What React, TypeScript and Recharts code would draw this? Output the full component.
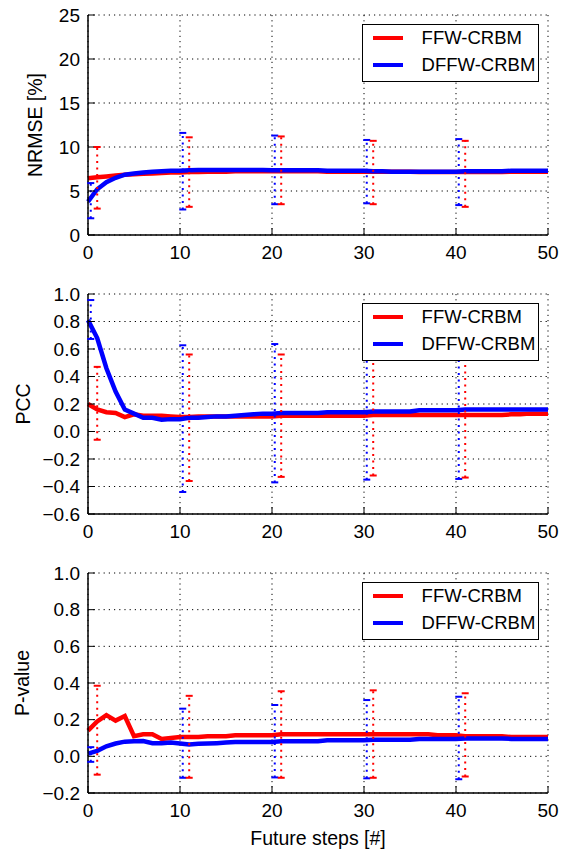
import React from 'react'
import {
  ComposedChart,
  Line,
  Scatter,
  ErrorBar,
  XAxis,
  YAxis,
  CartesianGrid,
  Legend,
  Label,
} from 'recharts'

const FONT = '"Liberation Sans", Arial, Helvetica, sans-serif'

// future steps on the x axis
const steps = [
  0, 1, 2, 3, 4, 5, 6, 7, 8, 9, 10, 11, 12, 13, 14, 15, 16, 17, 18, 19, 20, 21, 22, 23, 24, 25,
  26, 27, 28, 29, 30, 31, 32, 33, 34, 35, 36, 37, 38, 39, 40, 41, 42, 43, 44, 45, 46, 47, 48, 49, 50,
]
const xTicks = [0, 10, 20, 30, 40, 50]

const seriesNames = ['FFW-CRBM', 'DFFW-CRBM']

// NRMSE [%]
const nrmseFfw = [
  6.45, 6.55, 6.65, 6.75, 6.85, 6.9, 6.95, 7.0, 7.05, 7.1, 7.1, 7.15, 7.15, 7.2, 7.2, 7.2, 7.25,
  7.25, 7.25, 7.25, 7.25, 7.25, 7.25, 7.25, 7.25, 7.25, 7.2, 7.2, 7.2, 7.2, 7.2, 7.2, 7.2, 7.2,
  7.2, 7.2, 7.15, 7.15, 7.15, 7.15, 7.15, 7.15, 7.15, 7.15, 7.15, 7.15, 7.2, 7.2, 7.2, 7.2, 7.2,
]
const nrmseDffw = [
  3.8, 5.2, 6.0, 6.5, 6.85, 7.0, 7.1, 7.2, 7.25, 7.3, 7.3, 7.35, 7.4, 7.4, 7.4, 7.4, 7.4, 7.4,
  7.4, 7.4, 7.35, 7.35, 7.35, 7.35, 7.35, 7.35, 7.3, 7.3, 7.3, 7.3, 7.3, 7.25, 7.25, 7.2, 7.2,
  7.2, 7.2, 7.2, 7.2, 7.2, 7.2, 7.25, 7.25, 7.25, 7.25, 7.25, 7.3, 7.3, 7.3, 7.3, 7.3,
]
const nrmseTicks = [0, 5, 10, 15, 20, 25]

// PCC
const pccFfw = [
  0.2, 0.16, 0.14, 0.135, 0.105, 0.125, 0.115, 0.115, 0.115, 0.11, 0.105, 0.105, 0.11, 0.11, 0.11,
  0.11, 0.11, 0.11, 0.11, 0.11, 0.11, 0.115, 0.115, 0.115, 0.115, 0.115, 0.115, 0.115, 0.115,
  0.115, 0.115, 0.12, 0.12, 0.12, 0.12, 0.12, 0.12, 0.12, 0.12, 0.12, 0.12, 0.12, 0.12, 0.12, 0.12,
  0.12, 0.125, 0.125, 0.13, 0.13, 0.13,
]
const pccDffw = [
  0.81, 0.68, 0.46, 0.29, 0.16, 0.13, 0.1, 0.1, 0.085, 0.09, 0.09, 0.1, 0.1, 0.105, 0.11, 0.11,
  0.115, 0.12, 0.125, 0.13, 0.13, 0.135, 0.135, 0.135, 0.135, 0.135, 0.14, 0.14, 0.14, 0.14, 0.14,
  0.145, 0.145, 0.145, 0.145, 0.145, 0.155, 0.155, 0.155, 0.155, 0.155, 0.16, 0.16, 0.16, 0.16,
  0.16, 0.16, 0.16, 0.16, 0.16, 0.16,
]
const pccTicks = [-0.6, -0.4, -0.2, 0.0, 0.2, 0.4, 0.6, 0.8, 1.0]

// P-value
const pvalFfw = [
  0.14, 0.19, 0.225, 0.195, 0.22, 0.11, 0.12, 0.12, 0.095, 0.1, 0.105, 0.105, 0.105, 0.11, 0.11,
  0.11, 0.115, 0.115, 0.115, 0.115, 0.115, 0.12, 0.12, 0.12, 0.12, 0.12, 0.12, 0.12, 0.12, 0.12,
  0.12, 0.12, 0.12, 0.12, 0.12, 0.12, 0.12, 0.12, 0.115, 0.115, 0.115, 0.11, 0.11, 0.11, 0.11,
  0.11, 0.105, 0.105, 0.105, 0.105, 0.105,
]
const pvalDffw = [
  0.015, 0.03, 0.055, 0.07, 0.08, 0.082, 0.083, 0.072, 0.072, 0.075, 0.07, 0.065, 0.068, 0.07,
  0.072, 0.075, 0.078, 0.078, 0.078, 0.078, 0.078, 0.082, 0.082, 0.082, 0.082, 0.082, 0.088, 0.088,
  0.088, 0.088, 0.088, 0.09, 0.09, 0.09, 0.09, 0.09, 0.095, 0.095, 0.095, 0.095, 0.095, 0.097,
  0.097, 0.097, 0.097, 0.097, 0.095, 0.095, 0.095, 0.095, 0.095,
]
const pvalTicks = [-0.2, 0.0, 0.2, 0.4, 0.6, 0.8, 1.0]

// error bars: red ones sit one step right of the blue ones
const ffwBarSteps = [1, 11, 21, 31, 41]
const dffwBarSteps = [0.3, 10.3, 20.3, 30.3, 40.3]

const nrmseFfwLow = [3.0, 3.2, 3.5, 3.5, 3.2]
const nrmseFfwHigh = [10.0, 11.1, 11.2, 10.7, 10.7]
const nrmseDffwLow = [1.9, 2.9, 3.5, 3.6, 3.4]
const nrmseDffwHigh = [5.9, 11.6, 11.3, 10.8, 10.9]

const pccFfwLow = [-0.06, -0.36, -0.33, -0.32, -0.335]
const pccFfwHigh = [0.47, 0.56, 0.56, 0.56, 0.57]
const pccDffwLow = [0.673, -0.44, -0.37, -0.35, -0.345]
const pccDffwHigh = [0.956, 0.627, 0.636, 0.62, 0.63]

const pvalFfwLow = [-0.1, -0.117, -0.117, -0.117, -0.11]
const pvalFfwHigh = [0.385, 0.33, 0.355, 0.36, 0.344]
const pvalDffwLow = [-0.03, -0.117, -0.115, -0.12, -0.125]
const pvalDffwHigh = [0.05, 0.26, 0.28, 0.307, 0.325]

const RED = '#ff0000'
const BLUE = '#0000ff'

const fmtInt = (v: number) => String(v)
const fmtDec = (v: number) => v.toFixed(1).replace('-', '\u2212')

function LegendBox({ payload }: any) {
  // keep plotting order (recharts sorts by name otherwise)
  const items = (payload ?? [])
    .filter((p: any) => p.type !== 'none')
    .sort((a: any, b: any) => seriesNames.indexOf(a.value) - seriesNames.indexOf(b.value))
  return (
    <div
      style={{
        width: 177,
        height: 58,
        boxSizing: 'border-box',
        border: '1.4px solid #000',
        background: '#fff',
        fontFamily: FONT,
      }}
    >
      {items.map((item: any) => (
        <div key={item.value} style={{ height: 26.7, display: 'flex', alignItems: 'center' }}>
          <span
            style={{ display: 'inline-block', marginLeft: 9.6, width: 30, height: 4, background: item.color }}
          />
          <span style={{ marginLeft: 19, fontSize: 18.5, color: '#000', lineHeight: 1 }}>{item.value}</span>
        </div>
      ))}
    </div>
  )
}

interface PanelProps {
  top: number
  height: number
  xAxisHeight: number
  yDomain: [number, number]
  yTicks: number[]
  fmt: (v: number) => string
  yLabel: string
  yLabelX: number
  ffw: number[]
  dffw: number[]
  ffwLow: number[]
  ffwHigh: number[]
  dffwLow: number[]
  dffwHigh: number[]
  xLabel?: string
}

function Panel(p: PanelProps) {
  const rows = steps.map((s, i) => ({ step: s, ffw: p.ffw[i], dffw: p.dffw[i] }))
  const bars = (xs: number[], lo: number[], hi: number[]) =>
    xs.map((x, i) => ({ step: x, y: lo[i], span: [0, hi[i] - lo[i]] }))
  const caps = (xs: number[], lo: number[], hi: number[]) =>
    xs.flatMap((x, i) => [
      { step: x, y: lo[i] },
      { step: x, y: hi[i] },
    ])
  const capShape = (color: string) => (props: any) => (
    <line x1={props.cx - 3.5} x2={props.cx + 3.5} y1={props.cy} y2={props.cy} stroke={color} strokeWidth={2} />
  )
  const tick = { fill: '#000', fontSize: 19, fontFamily: FONT }
  const axisLine = { stroke: '#000', strokeWidth: 1.5 }
  const tickLine = { stroke: '#000', strokeWidth: 1 }

  return (
    <div style={{ position: 'absolute', left: 0, top: p.top }}>
      <ComposedChart
        width={563}
        height={p.height}
        data={rows}
        margin={{ top: 15, right: 15, bottom: 0, left: 0 }}
      >
        <CartesianGrid stroke="#000" strokeWidth={1} strokeDasharray="1.2 4" />
        <XAxis
          dataKey="step"
          type="number"
          domain={[0, 50]}
          ticks={xTicks}
          height={p.xAxisHeight}
          tick={tick}
          tickFormatter={fmtInt}
          axisLine={axisLine}
          tickLine={tickLine}
          tickSize={-7}
          tickMargin={18}
          interval={0}
        >
          {p.xLabel && (
            <Label
              content={(lp: any) => (
                <text
                  x={lp.viewBox.x + lp.viewBox.width / 2}
                  y={lp.viewBox.y + 52}
                  textAnchor="middle"
                  fontSize={19.5}
                  fontFamily={FONT}
                  fill="#000"
                >
                  {p.xLabel}
                </text>
              )}
            />
          )}
        </XAxis>
        <XAxis
          xAxisId="top"
          orientation="top"
          type="number"
          domain={[0, 50]}
          ticks={xTicks}
          height={0}
          tickFormatter={() => ''}
          axisLine={axisLine}
          tickLine={tickLine}
          tickSize={-7}
          interval={0}
        />
        <YAxis
          type="number"
          domain={p.yDomain}
          ticks={p.yTicks}
          width={88}
          tick={tick}
          tickFormatter={p.fmt}
          axisLine={axisLine}
          tickLine={tickLine}
          tickSize={-7}
          tickMargin={15}
          interval={0}
        >
          <Label
            content={(lp: any) => {
              const cy = lp.viewBox.y + lp.viewBox.height / 2
              return (
                <text
                  x={p.yLabelX}
                  y={cy}
                  transform={`rotate(-90, ${p.yLabelX}, ${cy})`}
                  textAnchor="middle"
                  fontSize={19.5}
                  fontFamily={FONT}
                  fill="#000"
                >
                  {p.yLabel}
                </text>
              )
            }}
          />
        </YAxis>
        <YAxis
          yAxisId="right"
          orientation="right"
          type="number"
          domain={p.yDomain}
          ticks={p.yTicks}
          width={0}
          tickFormatter={() => ''}
          axisLine={axisLine}
          tickLine={tickLine}
          tickSize={-7}
          interval={0}
        />
        <Line
          dataKey="ffw"
          name={seriesNames[0]}
          type="linear"
          stroke={RED}
          strokeWidth={4.5}
          dot={false}
          isAnimationActive={false}
        />
        <Line
          dataKey="dffw"
          name={seriesNames[1]}
          type="linear"
          stroke={BLUE}
          strokeWidth={4.5}
          dot={false}
          isAnimationActive={false}
        />
        <Scatter
          data={bars(dffwBarSteps, p.dffwLow, p.dffwHigh)}
          dataKey="y"
          legendType="none"
          shape={() => <g />}
          isAnimationActive={false}
        >
          <ErrorBar
            dataKey="span"
            direction="y"
            width={0}
            stroke={BLUE}
            strokeWidth={2}
            strokeDasharray="2 4.5"
            isAnimationActive={false}
          />
        </Scatter>
        <Scatter
          data={bars(ffwBarSteps, p.ffwLow, p.ffwHigh)}
          dataKey="y"
          legendType="none"
          shape={() => <g />}
          isAnimationActive={false}
        >
          <ErrorBar
            dataKey="span"
            direction="y"
            width={0}
            stroke={RED}
            strokeWidth={2}
            strokeDasharray="2 4.5"
            isAnimationActive={false}
          />
        </Scatter>
        <Scatter
          data={caps(dffwBarSteps, p.dffwLow, p.dffwHigh)}
          dataKey="y"
          legendType="none"
          shape={capShape(BLUE)}
          isAnimationActive={false}
        />
        <Scatter
          data={caps(ffwBarSteps, p.ffwLow, p.ffwHigh)}
          dataKey="y"
          legendType="none"
          shape={capShape(RED)}
          isAnimationActive={false}
        />
        <Legend
          layout="vertical"
          align="center"
          verticalAlign="middle"
          content={<LegendBox />}
          wrapperStyle={{ top: 24, left: 362, width: 177, height: 58 }}
        />
      </ComposedChart>
    </div>
  )
}

export default function App() {
  return (
    <div style={{ position: 'absolute', left: 0, top: 0, width: 563, height: 855, background: '#fff' }}>
      <Panel
        top={0}
        height={279}
        xAxisHeight={44}
        yDomain={[0, 25]}
        yTicks={nrmseTicks}
        fmt={fmtInt}
        yLabel="NRMSE [%]"
        yLabelX={41.5}
        ffw={nrmseFfw}
        dffw={nrmseDffw}
        ffwLow={nrmseFfwLow}
        ffwHigh={nrmseFfwHigh}
        dffwLow={nrmseDffwLow}
        dffwHigh={nrmseDffwHigh}
      />
      <Panel
        top={279}
        height={279}
        xAxisHeight={44}
        yDomain={[-0.6, 1.0]}
        yTicks={pccTicks}
        fmt={fmtDec}
        yLabel="PCC"
        yLabelX={29.5}
        ffw={pccFfw}
        dffw={pccDffw}
        ffwLow={pccFfwLow}
        ffwHigh={pccFfwHigh}
        dffwLow={pccDffwLow}
        dffwHigh={pccDffwHigh}
      />
      <Panel
        top={558}
        height={297}
        xAxisHeight={62}
        yDomain={[-0.2, 1.0]}
        yTicks={pvalTicks}
        fmt={fmtDec}
        yLabel="P-value"
        yLabelX={29}
        ffw={pvalFfw}
        dffw={pvalDffw}
        ffwLow={pvalFfwLow}
        ffwHigh={pvalFfwHigh}
        dffwLow={pvalDffwLow}
        dffwHigh={pvalDffwHigh}
        xLabel="Future steps [#]"
      />
    </div>
  )
}
